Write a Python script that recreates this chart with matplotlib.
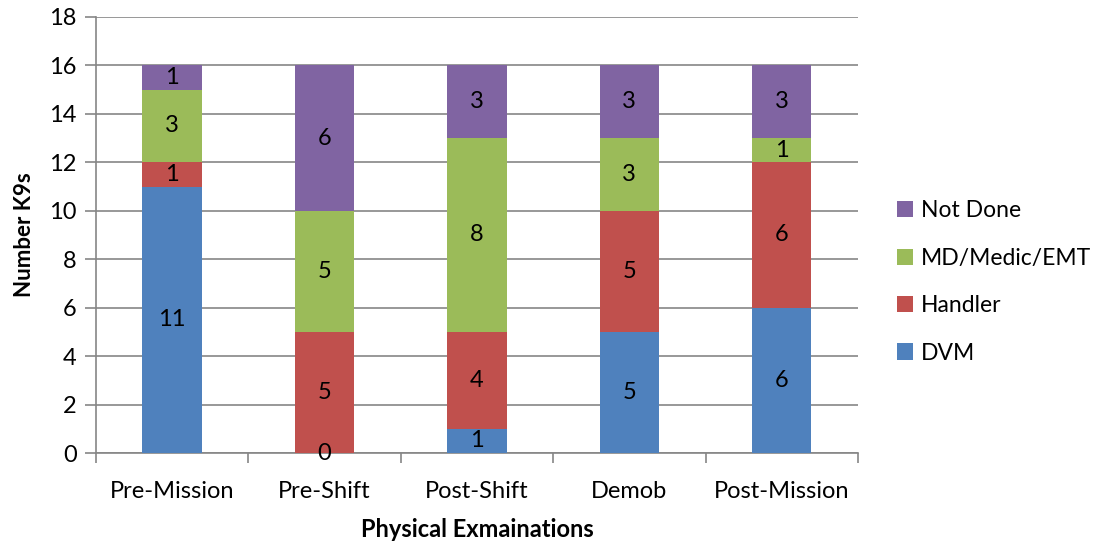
import matplotlib
matplotlib.use("Agg")
import matplotlib.pyplot as plt
import numpy as np
from matplotlib.patches import Patch

plt.rcParams['font.family'] = ['Lato', 'DejaVu Sans']

categories = ["Pre-Mission", "Pre-Shift", "Post-Shift", "Demob", "Post-Mission"]
series_names = ["DVM", "Handler", "MD/Medic/EMT", "Not Done"]
dvm = [11, 0, 1, 5, 6]
handler = [1, 5, 4, 5, 6]
medic = [3, 5, 8, 3, 1]
not_done = [1, 6, 3, 3, 3]
colors = ["#4F81BD", "#C0504D", "#9BBB59", "#8064A2"]
y_ticks = [0, 2, 4, 6, 8, 10, 12, 14, 16, 18]

fig = plt.figure(figsize=(11.01, 5.46), dpi=100)
ax = fig.add_axes([0.0872, 0.1703, 0.692, 0.7986])

grid_color = "#868686"
x = np.arange(len(categories))
bottom = np.zeros(len(categories))
for name, vals, col in zip(series_names, [dvm, handler, medic, not_done], colors):
    ax.bar(x, vals, width=0.39, bottom=bottom, color=col, label=name, zorder=3)
    for xi, b, v in zip(x, bottom, vals):
        ax.text(xi, b + v / 2, str(v), ha="center", va="center",
                fontsize=17, color="black", zorder=4)
    bottom += np.array(vals)

ax.set_xlim(-0.5, len(categories) - 0.5)
ax.set_ylim(0, 18)
ax.set_yticks(y_ticks)
ax.yaxis.grid(True, color=grid_color, linewidth=1.2, zorder=0)
ax.set_axisbelow(True)

ax.set_xticks(x)
ax.set_xticklabels(categories, fontsize=17)
ax.set_xticks(np.arange(len(categories) + 1) - 0.5, minor=True)
ax.tick_params(axis="x", which="major", length=0, pad=20)
ax.tick_params(axis="x", which="minor", length=7, color=grid_color, width=1.2)
ax.tick_params(axis="y", length=8, color=grid_color, width=1.2, labelsize=17, pad=6)

for side in ["top", "right"]:
    ax.spines[side].set_visible(False)
for side in ["left", "bottom"]:
    ax.spines[side].set_color(grid_color)
    ax.spines[side].set_linewidth(1.2)

ax.set_ylabel("Number K9s", fontsize=16, fontweight="bold", labelpad=10)
ax.set_xlabel("Physical Exmainations", fontsize=17, fontweight="bold", labelpad=12)

handles = [Patch(facecolor=c) for c in colors][::-1]
labels = series_names[::-1]
fig.legend(handles, labels, loc="center left", bbox_to_anchor=(0.8147, 0.4835),
           frameon=False, fontsize=16.5, handlelength=0.7, handleheight=0.7,
           handletextpad=0.35, labelspacing=1.15, borderpad=0, borderaxespad=0)

fig.savefig("out.png", dpi=100)
